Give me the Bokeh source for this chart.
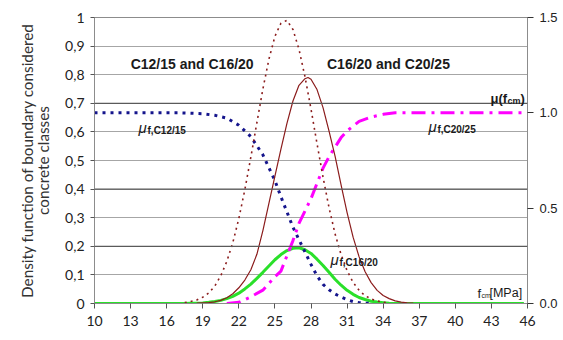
from bokeh.plotting import figure
from bokeh.models import (Range1d, LinearAxis, FixedTicker, CustomJSTickFormatter,
                          PrintfTickFormatter, Label, Span)
from bokeh.embed import file_html
from bokeh.resources import INLINE

# ---------------- data ----------------
x_ticks = [10, 13, 16, 19, 22, 25, 28, 31, 34, 37, 40, 43, 46]
y_ticks = [0, 0.1, 0.2, 0.3, 0.4, 0.5, 0.6, 0.7, 0.8, 0.9, 1.0]
mu_ticks = [0.0, 0.5, 1.0, 1.5]

# density of boundary C12/15 - C16/20 (dotted dark red)
x_db1 = [17.5, 18, 18.5, 19, 19.5, 20, 20.5, 21, 21.5, 22, 22.5, 23, 23.5, 24, 24.5,
         25, 25.5, 26, 26.5, 27, 27.5, 28, 28.5, 29, 29.5, 30, 30.5, 31, 31.5, 32,
         32.5, 33, 33.5, 34, 34.5]
y_db1 = [0.003, 0.007, 0.012, 0.022, 0.037, 0.061, 0.097, 0.147, 0.213, 0.297,
         0.398, 0.512, 0.632, 0.750, 0.854, 0.934, 0.980, 0.990, 0.958, 0.889,
         0.793, 0.680, 0.559, 0.442, 0.335, 0.244, 0.171, 0.115, 0.074, 0.046,
         0.027, 0.016, 0.009, 0.004, 0.002]

# density of boundary C16/20 - C20/25 (solid dark red)
x_db2 = [18.5, 19, 19.5, 20, 20.5, 21, 21.5, 22, 22.5, 23, 23.5, 24, 24.5, 25, 25.5,
         26, 26.5, 27, 27.5, 27.75, 28, 28.5, 29, 29.5, 30, 30.5, 31, 31.5, 32, 32.5,
         33, 33.5, 34, 34.5, 35, 35.5, 36, 36.5]
y_db2 = [0.001, 0.002, 0.003, 0.006, 0.011, 0.020, 0.034, 0.055, 0.082, 0.118,
         0.172, 0.255, 0.350, 0.445, 0.540, 0.630, 0.708, 0.763, 0.786, 0.790,
         0.784, 0.748, 0.685, 0.603, 0.515, 0.415, 0.318, 0.232, 0.163, 0.111,
         0.073, 0.046, 0.028, 0.017, 0.009, 0.005, 0.002, 0.001]

# mu_f,C16/20 (thick green)
x_g = [10, 17.5, 18, 18.5, 19, 19.5, 20, 20.5, 21, 21.5, 22, 22.5, 23, 23.5, 24, 24.5,
       25, 25.5, 26, 26.5, 27, 27.5, 28, 28.5, 29, 29.5, 30, 30.5, 31, 31.5, 32,
       32.5, 33, 33.5, 34, 34.5, 35, 45.7]
y_g = [0.0, 0.0, 0.001, 0.001, 0.002, 0.004, 0.007, 0.011, 0.017, 0.025, 0.036,
       0.051, 0.068, 0.088, 0.109, 0.131, 0.153, 0.171, 0.185, 0.193, 0.195, 0.188,
       0.175, 0.155, 0.133, 0.109, 0.085, 0.064, 0.046, 0.032, 0.021, 0.014, 0.008,
       0.005, 0.003, 0.001, 0.0, 0.0]

# mu_f,C12/15 (blue dotted, right axis)
x_b = [10, 17, 18, 19, 20, 21, 22, 23, 24, 25, 25.5, 26, 26.5, 27, 27.5, 28, 28.5,
       29, 29.5, 30, 30.5, 31, 31.5, 32, 33]
y_b = [1.0, 1.0, 0.998, 0.995, 0.987, 0.972, 0.935, 0.875, 0.78, 0.645, 0.56, 0.48,
       0.40, 0.335, 0.27, 0.205, 0.145, 0.10, 0.072, 0.05, 0.034, 0.02, 0.01, 0.004, 0.0]

# mu_f,C20/25 (magenta dash-dot, right axis)
x_m = [21, 22, 23, 24, 25, 25.5, 26, 26.5, 27, 27.5, 28, 28.5, 29, 29.5, 30, 30.5,
       31, 31.5, 32, 33, 34, 35, 45.8]
y_m = [0.0, 0.006, 0.035, 0.07, 0.14, 0.17, 0.25, 0.33, 0.42, 0.485, 0.55, 0.63,
       0.71, 0.77, 0.82, 0.87, 0.905, 0.93, 0.955, 0.978, 0.992, 1.0, 1.0]

# ---------------- figure ----------------
p = figure(width=561, height=332, x_range=Range1d(10, 46), y_range=Range1d(0, 1),
           output_backend="svg", toolbar_location=None,
           min_border_left=94, min_border_right=34, min_border_top=17,
           min_border_bottom=29)
p.background_fill_color = "white"
p.border_fill_color = "white"
p.outline_line_color = "#8c8c8c"

# left axis
ly = p.yaxis[0]
ly.ticker = FixedTicker(ticks=y_ticks)
ly.formatter = CustomJSTickFormatter(code="""
    if (Math.abs(tick) < 1e-9) return '0';
    if (Math.abs(tick - 1) < 1e-9) return '1';
    return tick.toFixed(1).replace('.', ',');
""")
ly.axis_label = "Density function of boundary considered\nconcrete classes"
ly.axis_label_text_font = "Lato"
ly.axis_label_text_font_size = "15.3px"
ly.axis_label_text_font_style = "normal"
ly.axis_label_text_color = "#333333"
ly.axis_label_text_line_height = 0.92
ly.axis_label_standoff = 10
ly.major_label_text_font = "Lato"
ly.major_label_text_font_size = "14px"
ly.major_label_text_color = "#222222"
ly.major_label_standoff = 6
ly.major_tick_out = 4
ly.major_tick_in = 0
ly.minor_tick_out = 0
ly.minor_tick_in = 0
ly.axis_line_color = "#8c8c8c"
ly.major_tick_line_color = "#555555"

# bottom axis
bx = p.xaxis[0]
bx.ticker = FixedTicker(ticks=x_ticks)
bx.major_label_text_font = "Lato"
bx.major_label_text_font_size = "14px"
bx.major_label_text_color = "#222222"
bx.major_label_standoff = 7
bx.major_tick_out = 5
bx.major_tick_in = 0
bx.minor_tick_out = 0
bx.minor_tick_in = 0
bx.axis_line_color = "#8c8c8c"
bx.major_tick_line_color = "#555555"

# right axis
p.extra_y_ranges = {"mu": Range1d(0, 1.5)}
ry = LinearAxis(y_range_name="mu", ticker=FixedTicker(ticks=mu_ticks),
                formatter=PrintfTickFormatter(format="%.1f"))
ry.major_label_text_font = "Liberation Sans"
ry.major_label_text_font_size = "13px"
ry.major_label_text_color = "#222222"
ry.major_label_standoff = 6
ry.major_tick_out = 6
ry.major_tick_in = 0
ry.minor_tick_out = 0
ry.minor_tick_in = 0
ry.axis_line_color = "#8c8c8c"
ry.major_tick_line_color = "#333333"
p.add_layout(ry, "right")

# grid
p.xgrid.visible = False
p.ygrid.ticker = FixedTicker(ticks=y_ticks[1:])
p.ygrid.grid_line_color = "#a6a6a6"
p.ygrid.grid_line_width = 1
for yv in [0.2, 0.4, 0.7]:
    p.add_layout(Span(location=yv, dimension="width", line_color="#5a5a5a", line_width=1.3))

# curves
p.line(x_g, y_g, line_color="#2ae02a", line_width=3)
p.line(x_b, y_b, y_range_name="mu", line_color="#14148c", line_width=3, line_dash="3 5")
p.line(x_m, y_m, y_range_name="mu", line_color="#ff00ff", line_width=3, line_dash="14 6 3 6")
p.line(x_db1, y_db1, line_color="#8b1c1c", line_width=1.6, line_dash="2 4")
p.line(x_db2, y_db2, line_color="#8b1c1c", line_width=1.2)

# texts
TXT = "#1a1a1a"
def lab(x, y, text, size, style="normal", font="Liberation Sans", align="left",
        baseline="alphabetic", xo=0, yo=0):
    p.add_layout(Label(x=x, y=y, text=text, text_font=font, text_font_size=size,
                       text_font_style=style, text_align=align, text_baseline=baseline,
                       x_offset=xo, y_offset=yo, text_color=TXT))

lab(18.12, 0.838, "C12/15 and C16/20", "14px", "bold", align="center", baseline="middle")
lab(34.44, 0.838, "C16/20 and C20/25", "14px", "bold", align="center", baseline="middle")

# mu(f_cm)
lab(42.92, 0.717, "\u03bc(f", "13px", "bold")
lab(42.92, 0.717, "cm", "9px", "bold", xo=17, yo=-3)
lab(42.92, 0.717, ")", "13px", "bold", xo=30)

# mu_f labels
def mu_label(x, y, sub):
    lab(x, y, "\u03bc", "15px", "italic")
    lab(x, y, sub, "10px", "bold", xo=9, yo=-3)

mu_label(13.66, 0.615, "f,C12/15")
mu_label(37.76, 0.619, "f,C20/25")
mu_label(29.62, 0.154, "f,C16/20")

# f_cm[MPa]
lab(41.84, 0.035, "f", "13px")
lab(41.84, 0.035, "cm", "7px", xo=4, yo=-2)
lab(41.84, 0.035, "[MPa]", "12.5px", xo=12)

open("out.html", "w").write(file_html(p, INLINE))
